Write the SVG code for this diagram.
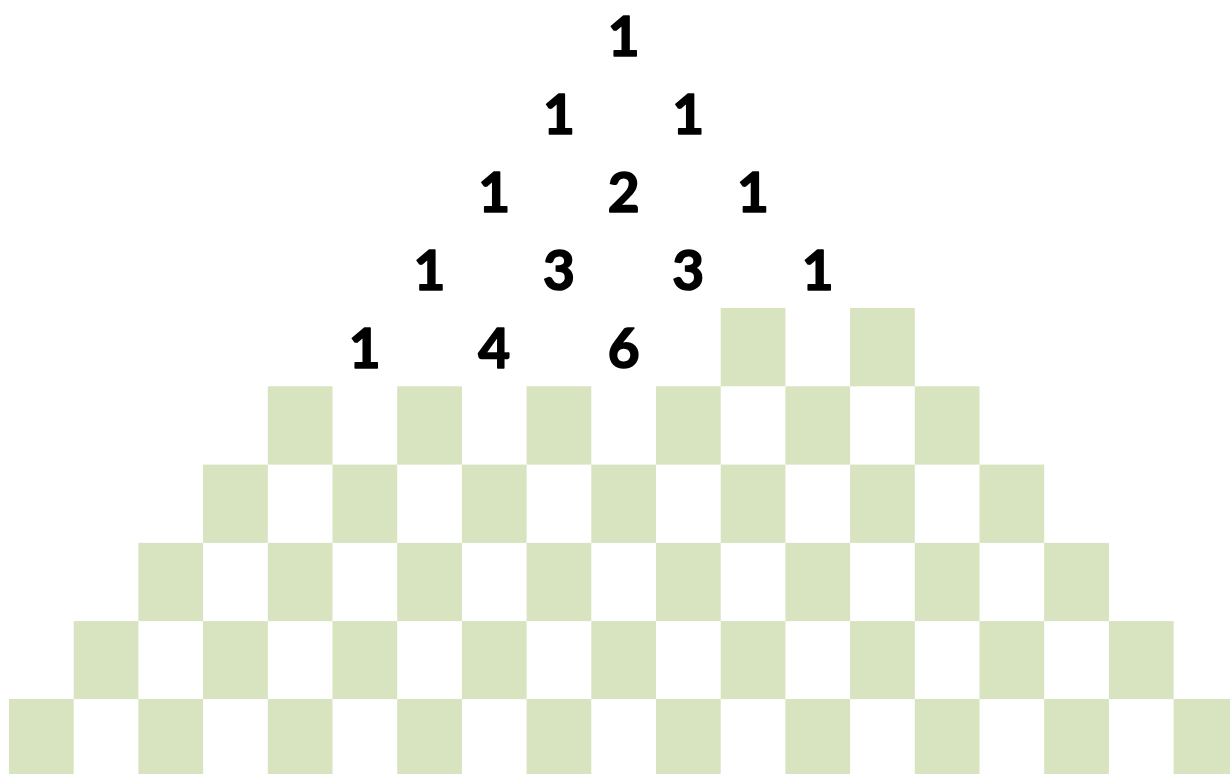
<svg xmlns="http://www.w3.org/2000/svg" width="1230" height="774" viewBox="0 0 1230 774">
<style>
.sq{fill:#d8e3bf}
.n{font-family:Lato,"Liberation Sans",sans-serif;font-weight:bold;font-size:55px;fill:#000;stroke:#000;stroke-width:1.6px;stroke-linejoin:round;text-anchor:middle}
</style>
<rect width="1230" height="774" fill="#fff"/>
<g id="numbers">
<text class="n" x="623.6" y="56">1</text>
<text class="n" x="558.9" y="133.9">1</text>
<text class="n" x="688.3" y="133.9">1</text>
<text class="n" x="494.2" y="211.8">1</text>
<text class="n" x="623.6" y="211.8">2</text>
<text class="n" x="753" y="211.8">1</text>
<text class="n" x="429.5" y="289.7">1</text>
<text class="n" x="558.9" y="289.7">3</text>
<text class="n" x="688.3" y="289.7">3</text>
<text class="n" x="817.7" y="289.7">1</text>
<text class="n" x="364.8" y="367.6">1</text>
<text class="n" x="494.2" y="367.6">4</text>
<text class="n" x="623.6" y="367.6">6</text>
</g>
<g id="squares">
<rect class="sq" x="720.7" y="308" width="64.7" height="78.3"/>
<rect class="sq" x="850.1" y="308" width="64.7" height="78.3"/>

<rect class="sq" x="267.8" y="386.3" width="64.7" height="78.3"/>
<rect class="sq" x="397.2" y="386.3" width="64.7" height="78.3"/>
<rect class="sq" x="526.6" y="386.3" width="64.7" height="78.3"/>
<rect class="sq" x="656" y="386.3" width="64.7" height="78.3"/>
<rect class="sq" x="785.4" y="386.3" width="64.7" height="78.3"/>
<rect class="sq" x="914.8" y="386.3" width="64.7" height="78.3"/>

<rect class="sq" x="203.1" y="464.6" width="64.7" height="78.3"/>
<rect class="sq" x="332.5" y="464.6" width="64.7" height="78.3"/>
<rect class="sq" x="461.9" y="464.6" width="64.7" height="78.3"/>
<rect class="sq" x="591.3" y="464.6" width="64.7" height="78.3"/>
<rect class="sq" x="720.7" y="464.6" width="64.7" height="78.3"/>
<rect class="sq" x="850.1" y="464.6" width="64.7" height="78.3"/>
<rect class="sq" x="979.5" y="464.6" width="64.7" height="78.3"/>

<rect class="sq" x="138.4" y="542.9" width="64.7" height="78.2"/>
<rect class="sq" x="267.8" y="542.9" width="64.7" height="78.2"/>
<rect class="sq" x="397.2" y="542.9" width="64.7" height="78.2"/>
<rect class="sq" x="526.6" y="542.9" width="64.7" height="78.2"/>
<rect class="sq" x="656" y="542.9" width="64.7" height="78.2"/>
<rect class="sq" x="785.4" y="542.9" width="64.7" height="78.2"/>
<rect class="sq" x="914.8" y="542.9" width="64.7" height="78.2"/>
<rect class="sq" x="1044.2" y="542.9" width="64.7" height="78.2"/>

<rect class="sq" x="73.7" y="621.1" width="64.7" height="78"/>
<rect class="sq" x="203.1" y="621.1" width="64.7" height="78"/>
<rect class="sq" x="332.5" y="621.1" width="64.7" height="78"/>
<rect class="sq" x="461.9" y="621.1" width="64.7" height="78"/>
<rect class="sq" x="591.3" y="621.1" width="64.7" height="78"/>
<rect class="sq" x="720.7" y="621.1" width="64.7" height="78"/>
<rect class="sq" x="850.1" y="621.1" width="64.7" height="78"/>
<rect class="sq" x="979.5" y="621.1" width="64.7" height="78"/>
<rect class="sq" x="1108.9" y="621.1" width="64.7" height="78"/>

<rect class="sq" x="9" y="699" width="64.7" height="75"/>
<rect class="sq" x="138.4" y="699" width="64.7" height="75"/>
<rect class="sq" x="267.8" y="699" width="64.7" height="75"/>
<rect class="sq" x="397.2" y="699" width="64.7" height="75"/>
<rect class="sq" x="526.6" y="699" width="64.7" height="75"/>
<rect class="sq" x="656" y="699" width="64.7" height="75"/>
<rect class="sq" x="785.4" y="699" width="64.7" height="75"/>
<rect class="sq" x="914.8" y="699" width="64.7" height="75"/>
<rect class="sq" x="1044.2" y="699" width="64.7" height="75"/>
<rect class="sq" x="1173.6" y="699" width="56.4" height="75"/>
</g>
</svg>
